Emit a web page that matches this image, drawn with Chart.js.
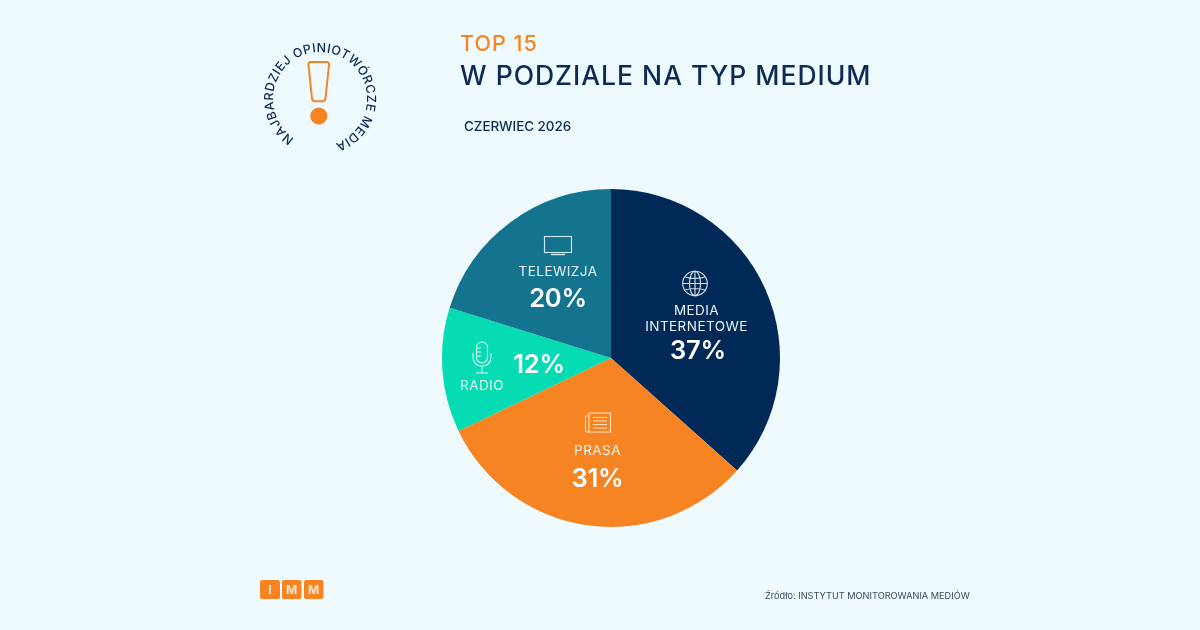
<!DOCTYPE html>
<html><head><meta charset="utf-8">
<script src="https://cdn.jsdelivr.net/npm/chart.js@4"></script>
<style>
html,body{margin:0;padding:0;width:1200px;height:630px;overflow:hidden;background:#eefafd;font-family:Inter,"Open Sans",sans-serif;}
.t{position:absolute;white-space:nowrap;line-height:1;}
.c{transform:translateX(-50%);text-align:center;}
.lab{color:#e6f5f7;font-size:13.5px;letter-spacing:.45px;font-weight:400;}
.val{color:#fff;font-size:25.5px;font-weight:600;letter-spacing:-.2px;}
#wrap{position:absolute;left:441px;top:188px;width:340px;height:340px;}
svg{position:absolute;left:0;top:0;overflow:visible;}
</style></head><body>
<div id="wrap"><canvas id="c" width="340" height="340"></canvas></div>
<svg width="1200" height="630" viewBox="0 0 1200 630" fill="none">
  <path id="ring" d="M294.4 138.4 A47 47 0 1 1 336 143.2" fill="none" stroke="none"/>
  <text font-family="Inter,sans-serif" font-size="12.5" font-weight="500" fill="#0d2a55" textLength="252" lengthAdjust="spacing"><textPath href="#ring">NAJBARDZIEJ OPINIOTWÓRCZE MEDIA</textPath></text>
  <path d="M310.5 62 H326.5 Q329.3 62 329 65 L325.5 98.5 Q325.2 101.2 322.5 101.2 H314.8 Q312.2 101.2 312 98.5 L308.5 65 Q308.2 62 310.5 62 Z" stroke="#f78423" stroke-width="2"/>
  <circle cx="318.8" cy="116" r="8.6" fill="#f78423"/>
  <g stroke="#cfeef2" stroke-width="1.1">
    <rect x="544.5" y="236.5" width="27" height="16"/>
    <path d="M551 254.5 H565" stroke-width="1.4"/>
  </g>
  <g stroke="#d8e4ee" stroke-width="1.1">
    <circle cx="695" cy="283.5" r="12.3"/>
    <ellipse cx="695" cy="283.5" rx="5.5" ry="12.3"/>
    <path d="M695 271.5 V295.5 M683 283.5 H707 M685 277 Q695 280 705 277 M685 290 Q695 287 705 290"/>
  </g>
  <g stroke="#fde0c4" stroke-width="1.1">
    <rect x="589" y="413" width="21.5" height="19"/>
    <path d="M589 416 H585.5 V430 Q585.5 432 588 432 H590 M593 417.5 H607 M593 421 H607 M593 424.5 H607 M593 428 H607"/>
  </g>
  <g stroke="#d9faf1" stroke-width="1.1">
    <rect x="476.5" y="342" width="11" height="21" rx="5.5"/>
    <path d="M473 353 V356 Q473 366 482 366 Q491 366 491 356 V353 M482 366 V372.5 M476 373 H488 M477 348 H481 M477 352 H481 M477 356 H481"/>
  </g>
  <g fill="#f78423">
    <rect x="260" y="580" width="20" height="19" rx="2"/>
    <rect x="282" y="580" width="19.5" height="19" rx="2"/>
    <rect x="304" y="580" width="19.5" height="19" rx="2"/>
  </g>
</svg>
<div class="t" style="left:460px;top:32.5px;font-size:21.5px;color:#f78423;font-weight:500;letter-spacing:1.05px">TOP 15</div>
<div class="t" style="left:460px;top:61.5px;font-size:26.5px;color:#0d2a55;font-weight:500;letter-spacing:1px">W PODZIALE NA TYP MEDIUM</div>
<div class="t" style="left:464px;top:119.5px;font-size:13.5px;color:#0d2a55;font-weight:500;letter-spacing:-.08px">CZERWIEC 2026</div>

<div class="t c lab" style="left:696.5px;top:303.5px">MEDIA</div>
<div class="t c lab" style="left:696.5px;top:320px">INTERNETOWE</div>
<div class="t c val" style="left:698px;top:337px" id="v0"></div>
<div class="t c lab" style="left:597.5px;top:443.5px">PRASA</div>
<div class="t c val" style="left:597.5px;top:465px" id="v1"></div>
<div class="t c lab" style="left:482px;top:378.5px">RADIO</div>
<div class="t c val" style="left:539px;top:351px" id="v2"></div>
<div class="t c lab" style="left:558px;top:264.5px">TELEWIZJA</div>
<div class="t c val" style="left:558px;top:285px" id="v3"></div>

<div class="t c" style="left:270px;top:583.5px;font-size:12px;font-weight:700;color:#fde6d0">I</div>
<div class="t c" style="left:291.7px;top:583.5px;font-size:12px;font-weight:700;color:#fde6d0">M</div>
<div class="t c" style="left:313.7px;top:583.5px;font-size:12px;font-weight:700;color:#fde6d0">M</div>
<div class="t" style="left:765px;top:590.5px;font-size:9.2px;color:#3b4a60">Źródło: INSTYTUT MONITOROWANIA MEDIÓW</div>

<script>
const categories = ["MEDIA INTERNETOWE", "PRASA", "RADIO", "TELEWIZJA"];
const shares = [36.6, 31.3, 11.9, 20.2];
const colours = ["#012957", "#f78423", "#06dcb3", "#147490"];

shares.forEach((v, i) => { document.getElementById("v" + i).textContent = Math.round(v) + "%"; });

new Chart(document.getElementById("c"), {
  type: "pie",
  data: { labels: categories, datasets: [{ data: shares, backgroundColor: colours, borderWidth: 0 }] },
  options: {
    responsive: false,
    animation: false,
    layout: { padding: 1 },
    plugins: { legend: { display: false }, tooltip: { enabled: false } }
  }
});
</script>
</body></html>
